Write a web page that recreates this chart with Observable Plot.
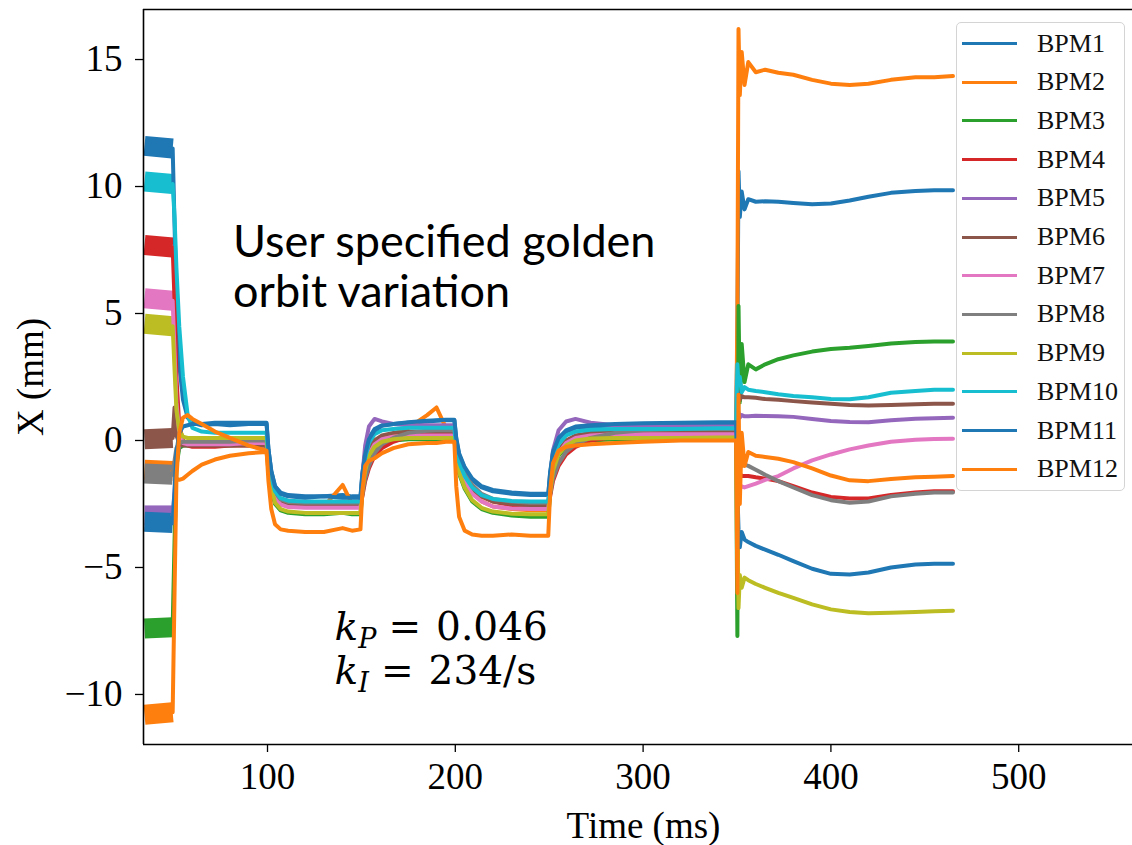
<!DOCTYPE html>
<html><head><meta charset="utf-8">
<script src="https://cdn.jsdelivr.net/npm/d3@7"></script>
<script src="https://cdn.jsdelivr.net/npm/@observablehq/plot@0.6"></script>
<style>
html,body{margin:0;padding:0;background:#fff;overflow:hidden;}
#wrap{position:relative;width:1132px;height:845px;overflow:hidden;}
#wrap svg{overflow:hidden;}
#legend{position:absolute;left:956px;top:22px;width:169px;height:469px;border:1.3px solid #d4d4d4;border-radius:5px;background:rgba(255,255,255,0.8);box-sizing:border-box;z-index:4;}
.row{position:absolute;left:0;height:0;width:100%;}
.sw{position:absolute;left:5px;width:55px;height:3px;top:-1.5px;}
.lb{position:absolute;left:80px;top:-16px;font-family:"Liberation Serif",serif;font-size:26px;line-height:32px;white-space:nowrap;color:#111;}
</style></head>
<body><div id="wrap"><div id="legend"></div></div>
<script>
const seriesNames = ["BPM1","BPM2","BPM3","BPM4","BPM5","BPM6","BPM7","BPM8","BPM9","BPM10","BPM11","BPM12"];
const seriesColors = ["#1f77b4","#ff7f0e","#2ca02c","#d62728","#9467bd","#8c564b","#e377c2","#7f7f7f","#bcbd22","#17becf","#1f77b4","#ff7f0e"];
const xTicks = [100, 200, 300, 400, 500];
const yTicks = [-10, -5, 0, 5, 10, 15];
const xDomain = [33.97, 566.45];
const yDomain = [-11.97, 16.97];

const timeMs = [
  34.5, 49.5, 50.5, 51.5, 53, 55, 57.5, 60, 65, 72, 80, 90, 99.5,
  100.5, 102, 104, 107, 111, 120, 130, 140, 145, 149.5,
  150.5, 152, 154, 157, 161, 167, 175, 185, 190, 195, 199.5,
  200.5, 202, 205, 209, 214, 220, 230, 240, 249.5,
  250.5, 252, 255, 259, 264, 272, 285, 300, 320, 340, 349.5,
  350.2, 350.8, 351.5, 352.5, 354, 356, 360, 365, 372, 380, 390, 400, 410, 420, 432, 445, 455, 465
];

const bpm1 = [
  11.6, 11.5, 8.5, 5.5, 3.0, 1.6, 0.9, 0.7, 0.6, 0.65, 0.6, 0.65, 0.65,
  -0.35, -1.2, -1.8, -2.05, -2.15, -2.2, -2.2, -2.15, -2.2, -2.2,
  -1.3, -0.5, 0.1, 0.45, 0.6, 0.65, 0.7, 0.75, 0.78, 0.8, 0.8,
  0.05, -0.55, -1.1, -1.55, -1.85, -2.0, -2.1, -2.15, -2.15,
  -1.3, -0.5, 0.05, 0.35, 0.5, 0.55, 0.6, 0.6, 0.62, 0.65, 0.65,
  4.0, 10.6, 8.8, 9.8, 9.1, 9.5, 9.4, 9.42, 9.4, 9.35, 9.3, 9.33, 9.45, 9.6, 9.75, 9.82, 9.85, 9.85
];
const bpm2 = [
  -1.15, -1.2, -1.3, -1.5, -1.55, -1.5, -1.35, -1.2, -0.95, -0.75, -0.6, -0.5, -0.45,
  -1.2, -1.9, -2.3, -2.5, -2.55, -2.6, -2.6, -1.75, -2.5, -2.55,
  -1.7, -0.9, -0.35, 0.0, 0.15, 0.25, 0.5, 1.0, 1.3, 0.5, 0.45,
  -0.2, -0.8, -1.5, -2.0, -2.4, -2.6, -2.7, -2.75, -2.75,
  -1.8, -1.0, -0.45, -0.15, 0.0, 0.05, 0.1, 0.1, 0.1, 0.12, 0.12,
  5.0, 16.2, 13.6, 15.3, 14.0, 14.9, 14.5, 14.6, 14.48, 14.4, 14.2, 14.05, 14.0, 14.05, 14.2, 14.3, 14.3, 14.35
];
const bpm3 = [
  -7.4, -7.35, -4.0, -1.0, -0.3, -0.2, -0.2, -0.2, -0.2, -0.2, -0.2, -0.15, -0.15,
  -1.1, -1.95, -2.5, -2.75, -2.85, -2.9, -2.9, -2.85, -2.9, -2.9,
  -2.1, -1.3, -0.7, -0.3, -0.1, 0.0, 0.05, 0.05, 0.05, 0.05, 0.05,
  -0.7, -1.3, -1.9, -2.4, -2.7, -2.85, -2.95, -3.0, -3.0,
  -2.1, -1.2, -0.6, -0.25, -0.05, 0.0, 0.05, 0.05, 0.05, 0.08, 0.08,
  -7.7, 5.3, 1.5, 3.8, 2.3, 3.0, 2.8, 3.0, 3.2, 3.35, 3.5, 3.6, 3.65, 3.72, 3.82, 3.88, 3.9, 3.9
];
const bpm4 = [
  7.7, 7.6, 5.5, 2.5, 0.6, 0.0, -0.2, -0.25, -0.25, -0.25, -0.2, -0.2, -0.2,
  -0.9, -1.6, -2.15, -2.45, -2.55, -2.6, -2.6, -2.6, -2.6, -2.6,
  -2.2, -1.6, -1.1, -0.6, -0.3, -0.05, 0.15, 0.25, 0.3, 0.3, 0.3,
  -0.3, -0.85, -1.4, -1.85, -2.2, -2.4, -2.55, -2.6, -2.6,
  -2.2, -1.6, -1.0, -0.55, -0.25, 0.0, 0.15, 0.25, 0.3, 0.3, 0.3,
  0.0, -1.0, -1.3, -1.4, -1.4, -1.4, -1.45, -1.5, -1.6, -1.8, -2.05, -2.22, -2.28, -2.28, -2.15, -2.05, -2.0, -2.0
];
const bpm5 = [
  -2.95, -2.95, -2.0, -0.8, -0.2, -0.1, -0.1, -0.1, -0.1, -0.1, -0.05, -0.05, -0.05,
  -0.9, -1.65, -2.15, -2.4, -2.47, -2.5, -2.5, -2.5, -2.5, -2.5,
  -1.4, -0.2, 0.55, 0.85, 0.75, 0.65, 0.6, 0.6, 0.6, 0.6, 0.6,
  -0.2, -0.8, -1.35, -1.8, -2.15, -2.35, -2.45, -2.5, -2.5,
  -1.5, -0.4, 0.4, 0.75, 0.85, 0.7, 0.6, 0.55, 0.55, 0.55, 0.55,
  0.8, 1.1, 0.9, 1.0, 0.95, 0.95, 0.97, 0.96, 0.95, 0.93, 0.85, 0.77, 0.73, 0.72, 0.8, 0.86, 0.88, 0.9
];
const bpm6 = [
  0.05, 0.1, 1.3, 0.2, -0.1, -0.2, -0.2, -0.2, -0.2, -0.2, -0.2, -0.2, -0.2,
  -0.95, -1.65, -2.15, -2.42, -2.52, -2.55, -2.55, -2.55, -2.55, -2.55,
  -1.8, -1.0, -0.4, 0.0, 0.2, 0.3, 0.35, 0.35, 0.35, 0.35, 0.35,
  -0.35, -0.9, -1.45, -1.9, -2.2, -2.4, -2.5, -2.55, -2.55,
  -1.8, -1.0, -0.4, 0.0, 0.2, 0.3, 0.35, 0.35, 0.35, 0.35, 0.35,
  1.0, 1.9, 1.6, 1.75, 1.7, 1.7, 1.68, 1.63, 1.6, 1.55, 1.5, 1.45, 1.4, 1.38, 1.4, 1.43, 1.45, 1.45
];
const bpm7 = [
  5.6, 5.5, 3.5, 1.5, 0.3, -0.1, -0.15, -0.15, -0.15, -0.15, -0.15, -0.1, -0.1,
  -1.0, -1.75, -2.25, -2.52, -2.62, -2.65, -2.65, -2.65, -2.65, -2.65,
  -1.8, -1.1, -0.55, -0.15, 0.05, 0.15, 0.2, 0.2, 0.2, 0.2, 0.2,
  -0.5, -1.1, -1.65, -2.1, -2.4, -2.6, -2.68, -2.7, -2.7,
  -1.85, -1.1, -0.5, -0.1, 0.1, 0.2, 0.25, 0.25, 0.25, 0.25, 0.25,
  -0.5, -1.5, -1.9, -1.8, -1.85, -1.8, -1.7, -1.55, -1.4, -1.1, -0.78, -0.55, -0.35, -0.2, -0.05, 0.03, 0.06, 0.07
];
const bpm8 = [
  -1.3, -1.35, -0.8, -0.3, -0.1, -0.05, -0.05, -0.05, -0.05, -0.05, -0.05, 0.0, 0.0,
  -0.85, -1.55, -2.05, -2.32, -2.42, -2.45, -2.45, -2.45, -2.45, -2.45,
  -2.1, -1.5, -1.0, -0.5, -0.15, 0.1, 0.3, 0.38, 0.4, 0.4, 0.4,
  -0.2, -0.75, -1.3, -1.75, -2.1, -2.3, -2.4, -2.45, -2.45,
  -2.1, -1.5, -0.9, -0.45, -0.15, 0.1, 0.3, 0.4, 0.45, 0.45, 0.45,
  0.2, -0.5, -0.9, -1.0, -0.95, -1.0, -1.15, -1.35, -1.6, -1.85, -2.15, -2.35, -2.45, -2.4, -2.2, -2.1, -2.05, -2.05
];
const bpm9 = [
  4.6, 4.5, 2.8, 1.2, 0.4, 0.15, 0.1, 0.1, 0.1, 0.1, 0.1, 0.1, 0.1,
  -0.95, -1.85, -2.45, -2.7, -2.8, -2.85, -2.85, -2.85, -2.85, -2.85,
  -2.0, -1.2, -0.6, -0.25, -0.05, 0.05, 0.1, 0.1, 0.1, 0.1, 0.1,
  -0.6, -1.25, -1.85, -2.35, -2.65, -2.8, -2.88, -2.9, -2.9,
  -2.05, -1.2, -0.55, -0.2, 0.0, 0.08, 0.1, 0.1, 0.1, 0.12, 0.12,
  -3.0, -6.6, -5.3, -5.8, -5.4, -5.5, -5.65, -5.8, -6.0, -6.2, -6.45, -6.65, -6.75, -6.8, -6.78, -6.75, -6.72, -6.7
];
const bpm10 = [
  10.2, 10.1, 8.8, 6.8, 4.5, 2.5, 1.0, 0.5, 0.35, 0.3, 0.3, 0.3, 0.3,
  -0.65, -1.45, -2.0, -2.27, -2.37, -2.4, -2.4, -2.4, -2.4, -2.4,
  -1.5, -0.7, -0.1, 0.25, 0.4, 0.45, 0.5, 0.5, 0.5, 0.5, 0.5,
  -0.25, -0.85, -1.4, -1.85, -2.15, -2.3, -2.38, -2.4, -2.4,
  -1.55, -0.75, -0.15, 0.2, 0.35, 0.42, 0.45, 0.45, 0.45, 0.48, 0.48,
  3.0, 2.2, 2.5, 1.9, 2.1, 2.0, 1.95, 1.9, 1.82, 1.75, 1.7, 1.63, 1.62, 1.7, 1.88, 1.95, 2.0, 2.0
];
const bpm11 = [
  -3.2, -3.25, -2.0, -0.5, 0.3, 0.55, 0.6, 0.65, 0.65, 0.7, 0.7, 0.7, 0.7,
  -0.35, -1.2, -1.8, -2.1, -2.2, -2.25, -2.2, -2.25, -2.25, -2.25,
  -1.35, -0.55, 0.05, 0.4, 0.58, 0.65, 0.72, 0.78, 0.8, 0.82, 0.82,
  0.1, -0.5, -1.05, -1.5, -1.8, -1.95, -2.05, -2.1, -2.1,
  -1.25, -0.45, 0.1, 0.4, 0.55, 0.6, 0.65, 0.68, 0.7, 0.72, 0.72,
  -2.0, -3.5, -4.2, -3.6, -3.9, -4.0, -4.15, -4.3, -4.5, -4.75, -5.05, -5.25, -5.28, -5.2, -5.0, -4.88, -4.85, -4.85
];
const bpm12 = [
  -10.8, -10.7, -6.0, -1.5, 0.3, 0.9, 1.0, 0.85, 0.65, 0.35, 0.1, -0.2, -0.4,
  -1.6, -2.7, -3.3, -3.5, -3.55, -3.6, -3.6, -3.45, -3.55, -3.5,
  -2.0, -1.0, -0.8, -0.7, -0.5, -0.3, -0.15, -0.1, -0.1, -0.05, -0.05,
  -1.8, -3.0, -3.55, -3.7, -3.75, -3.75, -3.7, -3.75, -3.75,
  -2.0, -0.9, -0.4, -0.25, -0.2, -0.15, -0.1, -0.05, 0.0, 0.0, 0.0,
  -6.0, 1.8, -2.5, 0.3, -1.0, -0.45, -0.6, -0.65, -0.72, -0.85, -1.1, -1.38, -1.57, -1.6, -1.52, -1.45, -1.43, -1.4
];
const seriesValues = [bpm1, bpm2, bpm3, bpm4, bpm5, bpm6, bpm7, bpm8, bpm9, bpm10, bpm11, bpm12];

const noteLines = ["User specified golden", "orbit variation"];
const gainP = "0.046";
const gainI = "234/s";

const serif = "'Liberation Serif', 'Times New Roman', serif";
const mathFont = "'DejaVu Serif', serif";

// Build tables
const initData = [], mainData = [];
seriesNames.forEach((name, i) => {
  const vals = seriesValues[i];
  if (vals.length !== timeMs.length) console.error(name, vals.length);
  timeMs.forEach((t, j) => {
    const d = {series: name, t, v: vals[j]};
    if (j <= 1) initData.push(d);
    if (j >= 1) mainData.push(d);
  });
});

const chart = Plot.plot({
  width: 1132, height: 845,
  marginLeft: 143, marginRight: -11, marginTop: 9, marginBottom: 101,
  style: {fontFamily: serif, fontSize: "37px", background: "white", color: "black", overflow: "hidden"},
  x: {domain: xDomain},
  y: {domain: yDomain},
  color: {domain: seriesNames, range: seriesColors},
  marks: [
    Plot.line(initData, {x: "t", y: "v", z: "series", stroke: "series", strokeWidth: 20, strokeLinecap: "butt", clip: true}),
    Plot.line(mainData, {x: "t", y: "v", z: "series", stroke: "series", strokeWidth: 4, clip: true}),
    Plot.ruleX([xDomain[0]], {stroke: "black", strokeWidth: 1.6}),
    Plot.ruleY(yDomain, {stroke: "black", strokeWidth: 1.6}),
    Plot.axisX({ticks: xTicks, tickSize: 8, tickPadding: 10, strokeWidth: 1.3, fontFamily: serif, fontSize: 37,
      label: "Time (ms)", labelAnchor: "center", labelOffset: 93, labelArrow: false}),
    Plot.axisY({ticks: yTicks, tickSize: 8, tickPadding: 13, strokeWidth: 1.3, fontFamily: serif, fontSize: 37,
      label: "X (mm)", labelAnchor: "center", labelOffset: 127, labelArrow: false})
  ]
});
document.getElementById("wrap").prepend(chart);

// Annotations positioned through the chart's scales
const sx = chart.scale("x"), sy = chart.scale("y");
const g = d3.select(chart).append("g").attr("text-anchor", "start");
noteLines.forEach((line, i) => {
  g.append("text").attr("x", sx.apply(81.9)).attr("y", sy.apply(i === 0 ? 7.2 : 5.25))
    .attr("font-family", "Lato, 'Open Sans', sans-serif").attr("font-size", 45).attr("fill", "black").text(line);
});

function mathLine(t, v, sub, value) {
  const tx = g.append("text").attr("x", sx.apply(t)).attr("y", sy.apply(v))
    .attr("font-family", mathFont).attr("font-size", 39).attr("fill", "black");
  tx.append("tspan").attr("font-style", "italic").text("k");
  tx.append("tspan").attr("font-style", "italic").attr("font-size", 27).attr("dy", 8).text(sub);
  tx.append("tspan").attr("dy", -8).attr("dx", 12).text("=");
  tx.append("tspan").attr("dx", 15).text(value);
}
mathLine(136.0, -7.87, "P", gainP);
mathLine(136.0, -9.61, "I", gainI);

// Legend
const legend = document.getElementById("legend");
seriesNames.forEach((name, i) => {
  const row = document.createElement("div");
  row.className = "row";
  row.style.top = (20.5 + i * 38.7) + "px";
  const sw = document.createElement("div");
  sw.className = "sw";
  sw.style.background = seriesColors[i];
  const lb = document.createElement("div");
  lb.className = "lb";
  lb.textContent = name;
  row.appendChild(sw); row.appendChild(lb);
  legend.appendChild(row);
});
</script></body></html>
